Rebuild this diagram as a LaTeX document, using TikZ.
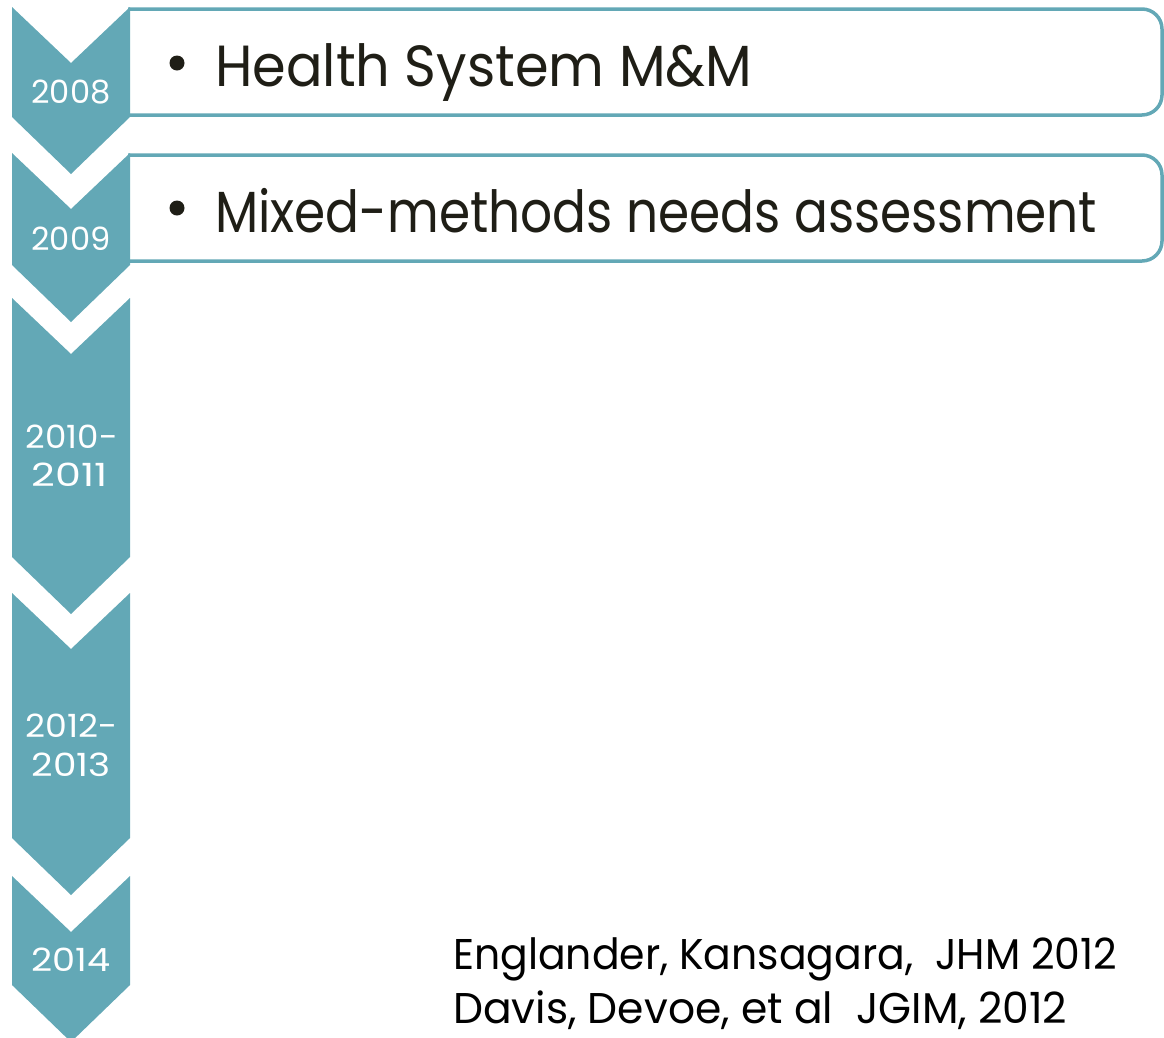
\documentclass[tikz,border=0pt]{standalone}
\usepackage{fontspec}
\usepackage{graphicx}
\setmainfont{Poppins}
\definecolor{teal}{HTML}{63A8B6}
\definecolor{ink}{HTML}{1F1E16}
\tikzset{
  chev/.style={fill=teal, draw=none},
  itembox/.style={draw=teal, line width=3.5pt, fill=white, rounded corners=20pt},
  year/.style={text=white, font=\fontsize{32}{39}\selectfont, inner sep=0pt, anchor=base},
  item/.style={text=ink, font=\fontsize{58}{70}\selectfont, inner sep=0pt, anchor=base west},
  cite/.style={text=black, font=\fontsize{43}{54}\selectfont, inner sep=0pt, anchor=base west},
}
% set a text to a given width, keeping its natural height
\newcommand{\fitto}[2]{\resizebox{#1}{\height}{#2}}
% a downward chevron: top y, bottom-of-sides y
\newcommand{\chevshape}[2]{%
  \fill[chev] (12,#1) -- (71,#1+56) -- (130,#1) -- (130,#2) -- (71,#2+57) -- (12,#2) -- cycle;}
% an item box hanging off the chevron, rounded on the right
\newcommand{\itemframe}[2]{%
  \draw[itembox] (128,#1) -- (1162,#1) -- (1162,#2) -- (128,#2);}
\begin{document}
\begin{tikzpicture}[x=1pt,y=-1pt]
  \useasboundingbox (0,0) rectangle (1164,1037);
  % item boxes
  \itemframe{9}{115}
  \itemframe{155}{261}
  % timeline chevrons
  \chevshape{7}{117}
  \chevshape{153}{265}
  \chevshape{298}{557}
  \chevshape{593}{838}
  \chevshape{876}{985}
  % year labels
  \node[year] (y1) at (71,103) {\fitto{79pt}{2008}};
  \node[year] (y2) at (71,250) {\fitto{79pt}{2009}};
  \node[year] (y3) at (72,448) {\fitto{92pt}{2010-}};
  \node[year] (y3b) at (70,486) {\fitto{76pt}{2011}};
  \node[year] (y4) at (72,737) {\fitto{92pt}{2012-}};
  \node[year] (y4b) at (71,776) {\fitto{79pt}{2013}};
  \node[year] (y5) at (71,971) {\fitto{79pt}{2014}};
  % bullets and item texts
  \fill[ink] (177,63) circle (7.5);
  \fill[ink] (177,208) circle (7.5);
  \node[item] (t1) at (215,86) {\fitto{537pt}{Health System M\&M}};
  \node[item] (t2) at (215,232) {\fitto{882pt}{Mixed-methods needs assessment}};
  % references
  \node[cite] (c1) at (453,969) {\fitto{664pt}{Englander, Kansagara,\ \ JHM 2012}};
  \node[cite] (c2) at (453,1023) {\fitto{614pt}{Davis, Devoe, et al\ \ JGIM, 2012}};
\end{tikzpicture}
\end{document}
